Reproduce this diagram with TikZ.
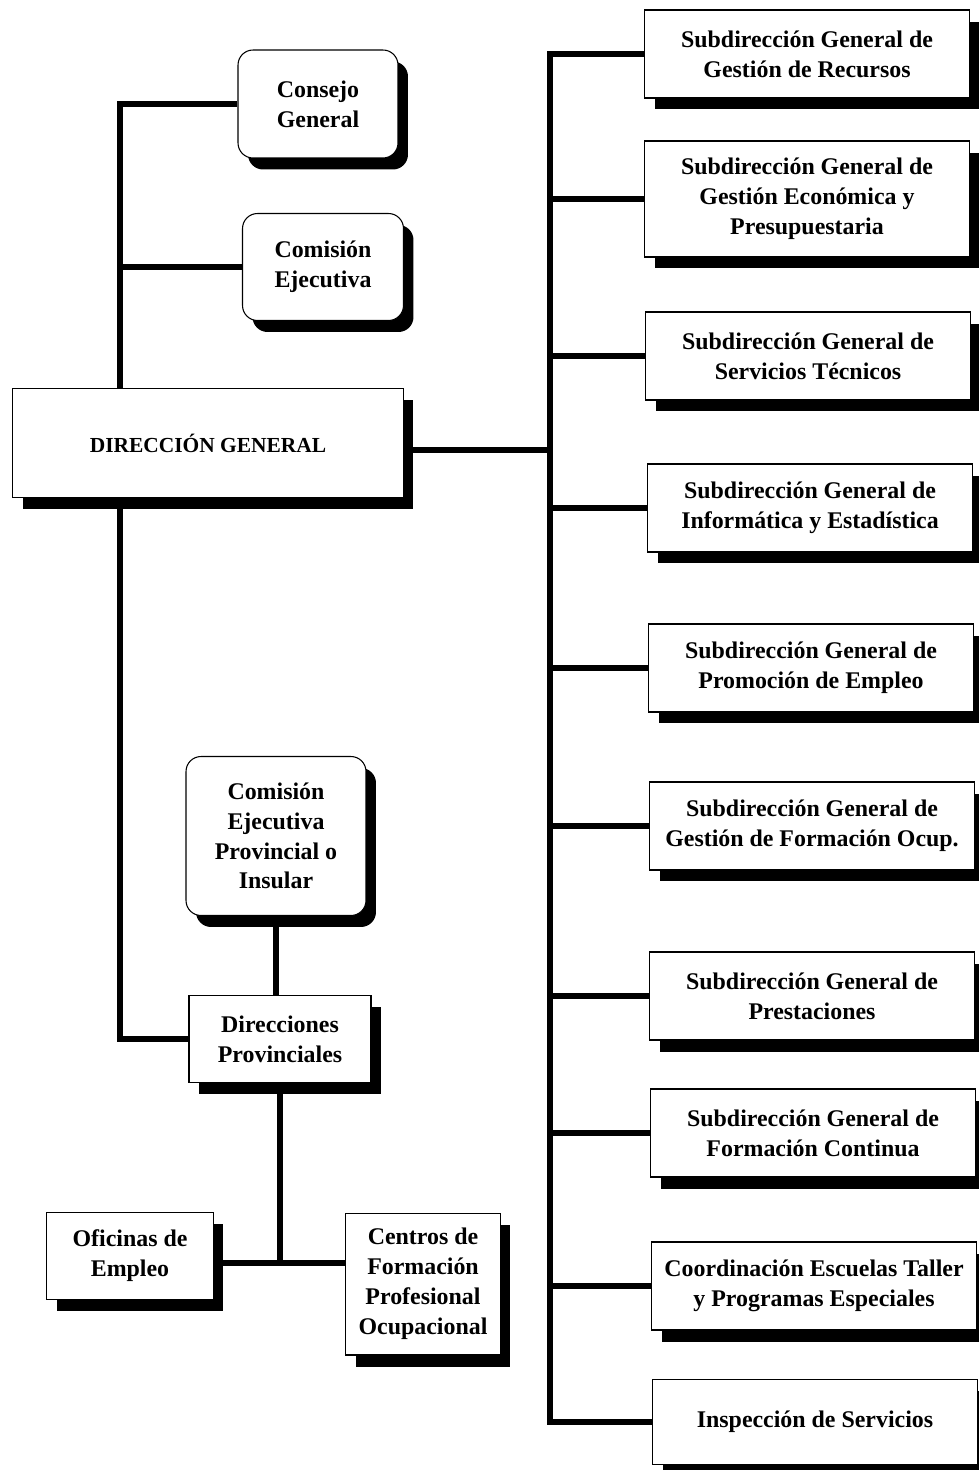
\documentclass[tikz,border=0pt]{standalone}
\usepackage{fontspec}
\setmainfont{Liberation Serif}
\usetikzlibrary{shadows}

\begin{document}
\begin{tikzpicture}[x=0.02cm, y=-0.02cm,
    box/.style={draw, line width=0.6pt, fill=white, align=center, inner sep=2pt,
      font=\fontsize{13.6}{17}\selectfont\bfseries,
      drop shadow={shadow xshift=0.2cm, shadow yshift=-0.23cm, opacity=1, fill=black}},
    rbox/.style={box, rounded corners=0.3cm},
    sub/.style={box, minimum width=6.5cm, minimum height=1.76cm},
    conn/.style={line width=3.6pt}]
  \useasboundingbox (0,0) rectangle (978,1470);
  \coordinate (lx) at (120,0);
  \coordinate (bx) at (550,0);
  \coordinate (jn) at (282,1263);

  \node[rbox, minimum width=3.2cm, minimum height=2.16cm] (cg) at (318,104) {Consejo\\General};
  \node[rbox, minimum width=3.22cm, minimum height=2.14cm] (ce) at (323,267) {Comisión\\Ejecutiva};
  \node[box, minimum width=7.82cm, minimum height=2.18cm, font=\fontsize{12.2}{15}\selectfont\bfseries] (dg) at (208,443) {DIRECCIÓN GENERAL};

  \node[sub] (s1) at (807,54) {Subdirección General de\\Gestión de Recursos};
  \node[sub, minimum height=2.32cm] (s2) at (807,199) {Subdirección General de\\Gestión Económica y\\Presupuestaria};
  \node[sub] (s3) at (808,356) {Subdirección General de\\Servicios Técnicos};
  \node[sub] (s4) at (810,508) {Subdirección General de\\Informática y Estadística};
  \node[sub] (s5) at (811,668) {Subdirección General de\\Promoción de Empleo};
  \node[sub] (s6) at (812,826) {Subdirección General de\\Gestión de Formación Ocup.};
  \node[sub] (s7) at (812,996) {Subdirección General de\\Prestaciones};
  \node[sub] (s8) at (813,1133) {Subdirección General de\\Formación Continua};
  \node[sub] (s9) at (814,1286) {Coordinación Escuelas Taller\\y Programas Especiales};
  \node[sub, minimum height=1.7cm] (s10) at (815,1422) {Inspección de Servicios};

  \node[rbox, minimum width=3.6cm, minimum height=3.18cm] (cp) at (276,836) {Comisión\\Ejecutiva\\Provincial o\\Insular};
  \node[box, minimum width=3.64cm, minimum height=1.74cm] (dp) at (280,1039) {Direcciones\\Provinciales};
  \node[box, minimum width=3.34cm, minimum height=1.74cm] (of) at (130,1256) {Oficinas de\\Empleo};
  \node[box, minimum width=3.1cm, minimum height=2.84cm] (cf) at (423,1284) {Centros de\\Formación\\Profesional\\Ocupacional};

  \draw[conn] (cg.west) -| (dg.north -| lx);
  \draw[conn] (ce.west) -- (ce.west -| lx);
  \draw[conn] (dg.south -| lx) |- (dp.west);
  \draw[conn] ([yshift=-0.14cm]dg.east) -- ([yshift=-0.14cm]dg.east -| bx);
  \draw[conn] (s1.west) -| (bx |- s10.west) -- (s10.west);
  \foreach \i in {2,...,9}
    \draw[conn] (s\i.west) -- (s\i.west -| bx);
  \draw[conn] (cp.south) -- (cp.south |- dp.north);
  \draw[conn] (dp.south) -- (dp.south |- jn);
  \draw[conn] (of.east |- jn) -- (cf.west |- jn);
\end{tikzpicture}
\end{document}
